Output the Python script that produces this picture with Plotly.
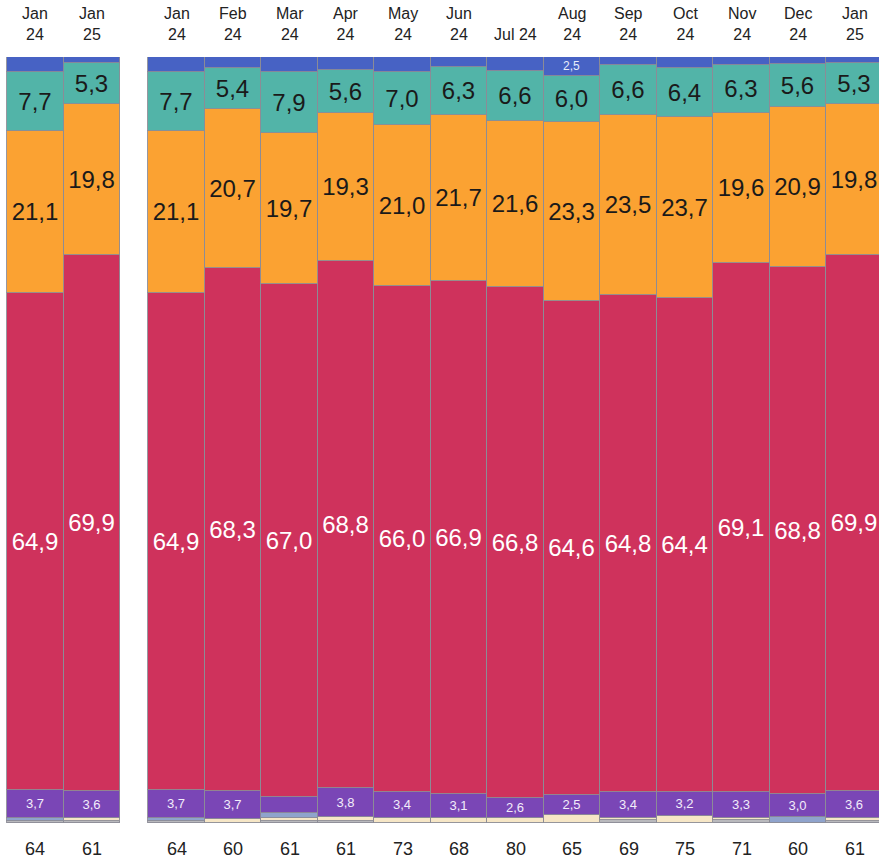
"""Структура по месяцам: 100% столбцы, две группы."""

import plotly.graph_objects as go

# подписи сверху и численность снизу
months = ["Jan 24", "Jan 25",
          "Jan 24", "Feb 24", "Mar 24", "Apr 24", "May 24", "Jun 24",
          "Jul 24", "Aug 24", "Sep 24", "Oct 24", "Nov 24", "Dec 24", "Jan 25"]
n_counts = [64, 61, 64, 60, 61, 61, 73, 68, 80, 65, 69, 75, 71, 60, 61]

# доли сегментов, % (снизу вверх)
gray = [0.3, 0.2, 0.3, 0.0, 0.2, 0.3, 0.0, 0.0, 0.0, 0.0, 0.4, 0.0, 0.4, 0.0, 0.2]
beige = [0.0, 0.4, 0.0, 0.5, 0.4, 0.5, 0.7, 0.7, 0.6, 1.1, 0.3, 0.9, 0.3, 0.0, 0.4]
lightblue = [0.3, 0.0, 0.3, 0.0, 0.7, 0.0, 0.0, 0.0, 0.0, 0.0, 0.0, 0.0, 0.0, 0.8, 0.0]
purple = [3.7, 3.6, 3.7, 3.7, 2.1, 3.8, 3.4, 3.1, 2.6, 2.5, 3.4, 3.2, 3.3, 3.0, 3.6]
crimson = [64.9, 69.9, 64.9, 68.3, 67.0, 68.8, 66.0, 66.9, 66.8, 64.6, 64.8, 64.4, 69.1, 68.8, 69.9]
orange = [21.1, 19.8, 21.1, 20.7, 19.7, 19.3, 21.0, 21.7, 21.6, 23.3, 23.5, 23.7, 19.6, 20.9, 19.8]
teal = [7.7, 5.3, 7.7, 5.4, 7.9, 5.6, 7.0, 6.3, 6.6, 6.0, 6.6, 6.4, 6.3, 5.6, 5.3]
blue = [2.0, 0.8, 2.0, 1.4, 2.0, 1.7, 1.9, 1.3, 1.8, 2.5, 1.0, 1.4, 1.0, 0.9, 0.8]

FONT = "Arial, Liberation Sans, sans-serif"
EDGE = "rgba(140,140,150,0.9)"

# две группы: 2 столбца, пропуск, 13 столбцов
x = [0, 1] + [2.5 + i for i in range(13)]


def _fmt(values, min_show=None):
    out = []
    for v in values:
        if min_show is not None and v < min_show:
            out.append("")
        else:
            out.append(f"{v:.1f}".replace(".", ","))
    return out


layers = [
    (gray, "#b9b9bd", None, None, None),
    (beige, "#f6e6c6", None, None, None),
    (lightblue, "#8fa3cc", None, None, None),
    (purple, "#7a46b6", 2.5, "#f2ecfa", 13),
    (crimson, "#cf325c", 0, "white", 24),
    (orange, "#fba232", 0, "#1a1a1a", 24),
    (teal, "#52b4a8", 0, "#1a1a1a", 24),
    (blue, "#4762c4", 2.5, "#e8ecfa", 12),
]

fig = go.Figure()
for vals, color, min_show, tcolor, tsize in layers:
    kw = {}
    if min_show is not None:
        kw = dict(
            text=_fmt(vals, min_show),
            textposition="inside",
            insidetextanchor="middle",
            textangle=0,
            constraintext="none",
            textfont=dict(family=FONT, size=tsize, color=tcolor),
        )
    fig.add_trace(
        go.Bar(
            x=x,
            y=vals,
            width=1,
            marker=dict(color=color, line=dict(color=EDGE, width=1)),
            hoverinfo="skip",
            showlegend=False,
            **kw,
        )
    )

for xi, m, n in zip(x, months, n_counts):
    label = m if m == "Jul 24" else m.replace(" ", "<br>")
    fig.add_annotation(
        x=xi, y=1, yref="paper", text=label, showarrow=False,
        yanchor="bottom", yshift=12,
        font=dict(family=FONT, size=16, color="#222"),
    )
    fig.add_annotation(
        x=xi, y=0, yref="paper", text=str(n), showarrow=False,
        yanchor="top", yshift=-14,
        font=dict(family=FONT, size=18, color="#222"),
    )

fig.update_layout(
    width=879,
    height=862,
    barmode="stack",
    bargap=0,
    margin=dict(l=0, r=0, t=57, b=39),
    paper_bgcolor="white",
    plot_bgcolor="white",
    uniformtext=dict(mode=False),
    xaxis=dict(range=[-0.624, 14.93], visible=False, fixedrange=True),
    yaxis=dict(range=[0, 100], visible=False, fixedrange=True),
)

# убираем отступ body, чтобы график лег ровно в окно
fig.write_html(
    "out.html",
    config={"displayModeBar": False},
    post_script="document.body.style.margin='0';",
)
